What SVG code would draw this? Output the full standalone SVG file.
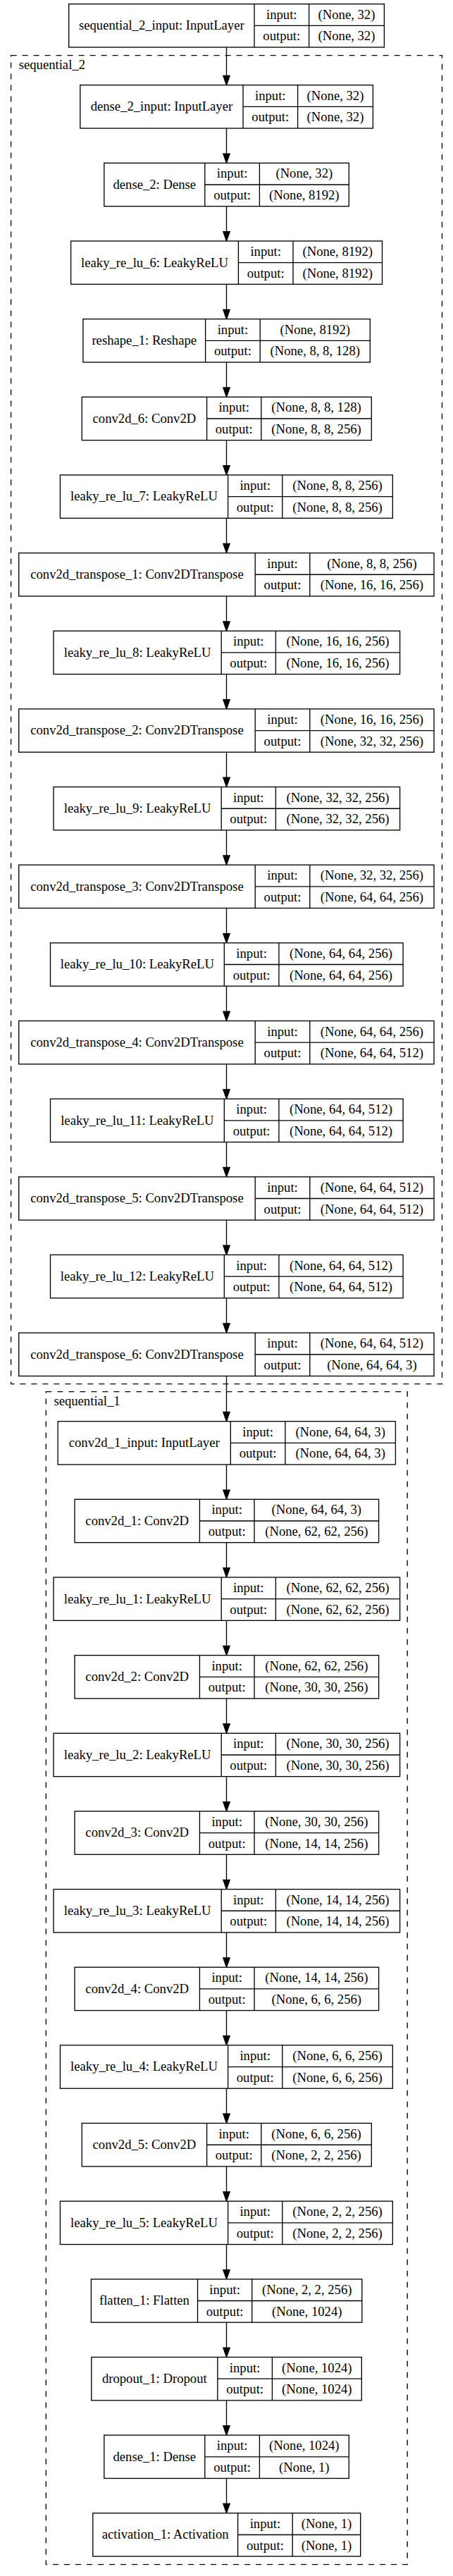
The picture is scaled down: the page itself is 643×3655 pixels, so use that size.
<svg xmlns="http://www.w3.org/2000/svg" width="643" height="3655" viewBox="0 0 643 3655">
<style>
.b{fill:#fff;stroke:#000;stroke-width:1.33}
.l{fill:none;stroke:#000;stroke-width:1.33}
.c{fill:none;stroke:#000;stroke-width:1.33;stroke-dasharray:8 8}
text{font-family:"Liberation Serif","Times New Roman",serif;font-size:18.67px;fill:#000;text-anchor:middle}
.cl{text-anchor:start}
.e{stroke:#000;stroke-width:1.33;fill:none;marker-end:url(#ah)}
</style>
<defs>
<marker id="ah" markerUnits="userSpaceOnUse" markerWidth="18" markerHeight="14" viewBox="-2 -7 18 14" refX="0" refY="0" orient="auto">
<path d="M0,-4.67L13.3,0L0,4.67Z" fill="#000" stroke="#000" stroke-width="1.33"/>
</marker>
</defs>
<rect width="643" height="3655" fill="#fff"/>
<g id="clusters">
<rect class="c" x="15.6" y="78.7" width="611.9" height="1885"/>
<text class="cl" x="26.7" y="98">sequential_2</text>
<rect class="c" x="65.3" y="1974.7" width="512.9" height="1664"/>
<text class="cl" x="76.4" y="1994">sequential_1</text>
</g>
<g id="connectors">
<line class="e" x1="321.5" y1="67.03" x2="321.5" y2="107.4"/>
<line class="e" x1="321.5" y1="182.03" x2="321.5" y2="218.05"/>
<line class="e" x1="321.5" y1="292.68" x2="321.5" y2="328.7"/>
<line class="e" x1="321.5" y1="403.33" x2="321.5" y2="439.35"/>
<line class="e" x1="321.5" y1="513.98" x2="321.5" y2="550"/>
<line class="e" x1="321.5" y1="624.63" x2="321.5" y2="660.65"/>
<line class="e" x1="321.5" y1="735.28" x2="321.5" y2="771.3"/>
<line class="e" x1="321.5" y1="845.93" x2="321.5" y2="881.95"/>
<line class="e" x1="321.5" y1="956.58" x2="321.5" y2="992.6"/>
<line class="e" x1="321.5" y1="1067.23" x2="321.5" y2="1103.25"/>
<line class="e" x1="321.5" y1="1177.88" x2="321.5" y2="1213.9"/>
<line class="e" x1="321.5" y1="1288.53" x2="321.5" y2="1324.55"/>
<line class="e" x1="321.5" y1="1399.18" x2="321.5" y2="1435.2"/>
<line class="e" x1="321.5" y1="1509.83" x2="321.5" y2="1545.85"/>
<line class="e" x1="321.5" y1="1620.48" x2="321.5" y2="1656.5"/>
<line class="e" x1="321.5" y1="1731.13" x2="321.5" y2="1767.15"/>
<line class="e" x1="321.5" y1="1841.78" x2="321.5" y2="1877.8"/>
<line class="e" x1="321.5" y1="1952.43" x2="321.5" y2="2003.4"/>
<line class="e" x1="321.5" y1="2078.03" x2="321.5" y2="2114.05"/>
<line class="e" x1="321.5" y1="2188.68" x2="321.5" y2="2224.7"/>
<line class="e" x1="321.5" y1="2299.33" x2="321.5" y2="2335.35"/>
<line class="e" x1="321.5" y1="2409.98" x2="321.5" y2="2446"/>
<line class="e" x1="321.5" y1="2520.63" x2="321.5" y2="2556.65"/>
<line class="e" x1="321.5" y1="2631.28" x2="321.5" y2="2667.3"/>
<line class="e" x1="321.5" y1="2741.93" x2="321.5" y2="2777.95"/>
<line class="e" x1="321.5" y1="2852.58" x2="321.5" y2="2888.6"/>
<line class="e" x1="321.5" y1="2963.23" x2="321.5" y2="2999.25"/>
<line class="e" x1="321.5" y1="3073.88" x2="321.5" y2="3109.9"/>
<line class="e" x1="321.5" y1="3184.53" x2="321.5" y2="3220.55"/>
<line class="e" x1="321.5" y1="3295.18" x2="321.5" y2="3331.2"/>
<line class="e" x1="321.5" y1="3405.83" x2="321.5" y2="3441.85"/>
<line class="e" x1="321.5" y1="3516.48" x2="321.5" y2="3552.5"/>
</g>
<g id="n_sequential_2_input" transform="translate(0,5.7)">
<rect class="b" x="97.7" y="0" width="447.7" height="61.33"/>
<path class="l" d="M361 0V61.33M438.6 0V61.33M361 30.67H545.4"/>
<text x="229.35" y="36.5">sequential_2_input: InputLayer</text>
<text x="399.8" y="21.1">input:</text><text x="492" y="21.1">(None, 32)</text>
<text x="399.8" y="51.8">output:</text><text x="492" y="51.8">(None, 32)</text>
</g>
<g id="n_dense_2_input" transform="translate(0,120.7)">
<rect class="b" x="113.8" y="0" width="415.6" height="61.33"/>
<path class="l" d="M345 0V61.33M422.6 0V61.33M345 30.67H529.4"/>
<text x="229.4" y="36.5">dense_2_input: InputLayer</text>
<text x="383.8" y="21.1">input:</text><text x="476" y="21.1">(None, 32)</text>
<text x="383.8" y="51.8">output:</text><text x="476" y="51.8">(None, 32)</text>
</g>
<g id="n_dense_2" transform="translate(0,231.35)">
<rect class="b" x="147.8" y="0" width="347.5" height="61.33"/>
<path class="l" d="M290.8 0V61.33M368.4 0V61.33M290.8 30.67H495.3"/>
<text x="219.3" y="36.5">dense_2: Dense</text>
<text x="329.6" y="21.1">input:</text><text x="431.85" y="21.1">(None, 32)</text>
<text x="329.6" y="51.8">output:</text><text x="431.85" y="51.8">(None, 8192)</text>
</g>
<g id="n_leaky_re_lu_6" transform="translate(0,342)">
<rect class="b" x="100.6" y="0" width="441.9" height="61.33"/>
<path class="l" d="M338.4 0V61.33M416 0V61.33M338.4 30.67H542.5"/>
<text x="219.5" y="36.5">leaky_re_lu_6: LeakyReLU</text>
<text x="377.2" y="21.1">input:</text><text x="479.25" y="21.1">(None, 8192)</text>
<text x="377.2" y="51.8">output:</text><text x="479.25" y="51.8">(None, 8192)</text>
</g>
<g id="n_reshape_1" transform="translate(0,452.65)">
<rect class="b" x="117.9" y="0" width="407.4" height="61.33"/>
<path class="l" d="M291.6 0V61.33M369.2 0V61.33M291.6 30.67H525.3"/>
<text x="204.75" y="36.5">reshape_1: Reshape</text>
<text x="330.4" y="21.1">input:</text><text x="447.25" y="21.1">(None, 8192)</text>
<text x="330.4" y="51.8">output:</text><text x="447.25" y="51.8">(None, 8, 8, 128)</text>
</g>
<g id="n_conv2d_6" transform="translate(0,563.3)">
<rect class="b" x="116.2" y="0" width="411.1" height="61.33"/>
<path class="l" d="M293.6 0V61.33M370.8 0V61.33M293.6 30.67H527.3"/>
<text x="204.9" y="36.5">conv2d_6: Conv2D</text>
<text x="332.2" y="21.1">input:</text><text x="449.05" y="21.1">(None, 8, 8, 128)</text>
<text x="332.2" y="51.8">output:</text><text x="449.05" y="51.8">(None, 8, 8, 256)</text>
</g>
<g id="n_leaky_re_lu_7" transform="translate(0,673.95)">
<rect class="b" x="85.4" y="0" width="471.9" height="61.33"/>
<path class="l" d="M323.6 0V61.33M400.8 0V61.33M323.6 30.67H557.3"/>
<text x="204.5" y="36.5">leaky_re_lu_7: LeakyReLU</text>
<text x="362.2" y="21.1">input:</text><text x="479.05" y="21.1">(None, 8, 8, 256)</text>
<text x="362.2" y="51.8">output:</text><text x="479.05" y="51.8">(None, 8, 8, 256)</text>
</g>
<g id="n_conv2d_transpose_1" transform="translate(0,784.6)">
<rect class="b" x="26.7" y="0" width="589.3" height="61.33"/>
<path class="l" d="M362.2 0V61.33M439.8 0V61.33M362.2 30.67H616"/>
<text x="194.45" y="36.5">conv2d_transpose_1: Conv2DTranspose</text>
<text x="401" y="21.1">input:</text><text x="527.9" y="21.1">(None, 8, 8, 256)</text>
<text x="401" y="51.8">output:</text><text x="527.9" y="51.8">(None, 16, 16, 256)</text>
</g>
<g id="n_leaky_re_lu_8" transform="translate(0,895.25)">
<rect class="b" x="76" y="0" width="491.6" height="61.33"/>
<path class="l" d="M314.2 0V61.33M391.4 0V61.33M314.2 30.67H567.6"/>
<text x="195.1" y="36.5">leaky_re_lu_8: LeakyReLU</text>
<text x="352.8" y="21.1">input:</text><text x="479.5" y="21.1">(None, 16, 16, 256)</text>
<text x="352.8" y="51.8">output:</text><text x="479.5" y="51.8">(None, 16, 16, 256)</text>
</g>
<g id="n_conv2d_transpose_2" transform="translate(0,1005.9)">
<rect class="b" x="26.7" y="0" width="589.3" height="61.33"/>
<path class="l" d="M362.2 0V61.33M439.8 0V61.33M362.2 30.67H616"/>
<text x="194.45" y="36.5">conv2d_transpose_2: Conv2DTranspose</text>
<text x="401" y="21.1">input:</text><text x="527.9" y="21.1">(None, 16, 16, 256)</text>
<text x="401" y="51.8">output:</text><text x="527.9" y="51.8">(None, 32, 32, 256)</text>
</g>
<g id="n_leaky_re_lu_9" transform="translate(0,1116.55)">
<rect class="b" x="76" y="0" width="491.6" height="61.33"/>
<path class="l" d="M314.2 0V61.33M391.4 0V61.33M314.2 30.67H567.6"/>
<text x="195.1" y="36.5">leaky_re_lu_9: LeakyReLU</text>
<text x="352.8" y="21.1">input:</text><text x="479.5" y="21.1">(None, 32, 32, 256)</text>
<text x="352.8" y="51.8">output:</text><text x="479.5" y="51.8">(None, 32, 32, 256)</text>
</g>
<g id="n_conv2d_transpose_3" transform="translate(0,1227.2)">
<rect class="b" x="26.7" y="0" width="589.3" height="61.33"/>
<path class="l" d="M362.2 0V61.33M439.8 0V61.33M362.2 30.67H616"/>
<text x="194.45" y="36.5">conv2d_transpose_3: Conv2DTranspose</text>
<text x="401" y="21.1">input:</text><text x="527.9" y="21.1">(None, 32, 32, 256)</text>
<text x="401" y="51.8">output:</text><text x="527.9" y="51.8">(None, 64, 64, 256)</text>
</g>
<g id="n_leaky_re_lu_10" transform="translate(0,1337.85)">
<rect class="b" x="71.5" y="0" width="500.6" height="61.33"/>
<path class="l" d="M318.3 0V61.33M395.9 0V61.33M318.3 30.67H572.1"/>
<text x="194.9" y="36.5">leaky_re_lu_10: LeakyReLU</text>
<text x="357.1" y="21.1">input:</text><text x="484" y="21.1">(None, 64, 64, 256)</text>
<text x="357.1" y="51.8">output:</text><text x="484" y="51.8">(None, 64, 64, 256)</text>
</g>
<g id="n_conv2d_transpose_4" transform="translate(0,1448.5)">
<rect class="b" x="26.7" y="0" width="589.3" height="61.33"/>
<path class="l" d="M362.2 0V61.33M439.8 0V61.33M362.2 30.67H616"/>
<text x="194.45" y="36.5">conv2d_transpose_4: Conv2DTranspose</text>
<text x="401" y="21.1">input:</text><text x="527.9" y="21.1">(None, 64, 64, 256)</text>
<text x="401" y="51.8">output:</text><text x="527.9" y="51.8">(None, 64, 64, 512)</text>
</g>
<g id="n_leaky_re_lu_11" transform="translate(0,1559.15)">
<rect class="b" x="71.5" y="0" width="500.6" height="61.33"/>
<path class="l" d="M318.3 0V61.33M395.9 0V61.33M318.3 30.67H572.1"/>
<text x="194.9" y="36.5">leaky_re_lu_11: LeakyReLU</text>
<text x="357.1" y="21.1">input:</text><text x="484" y="21.1">(None, 64, 64, 512)</text>
<text x="357.1" y="51.8">output:</text><text x="484" y="51.8">(None, 64, 64, 512)</text>
</g>
<g id="n_conv2d_transpose_5" transform="translate(0,1669.8)">
<rect class="b" x="26.7" y="0" width="589.3" height="61.33"/>
<path class="l" d="M362.2 0V61.33M439.8 0V61.33M362.2 30.67H616"/>
<text x="194.45" y="36.5">conv2d_transpose_5: Conv2DTranspose</text>
<text x="401" y="21.1">input:</text><text x="527.9" y="21.1">(None, 64, 64, 512)</text>
<text x="401" y="51.8">output:</text><text x="527.9" y="51.8">(None, 64, 64, 512)</text>
</g>
<g id="n_leaky_re_lu_12" transform="translate(0,1780.45)">
<rect class="b" x="71.5" y="0" width="500.6" height="61.33"/>
<path class="l" d="M318.3 0V61.33M395.9 0V61.33M318.3 30.67H572.1"/>
<text x="194.9" y="36.5">leaky_re_lu_12: LeakyReLU</text>
<text x="357.1" y="21.1">input:</text><text x="484" y="21.1">(None, 64, 64, 512)</text>
<text x="357.1" y="51.8">output:</text><text x="484" y="51.8">(None, 64, 64, 512)</text>
</g>
<g id="n_conv2d_transpose_6" transform="translate(0,1891.1)">
<rect class="b" x="26.7" y="0" width="589.3" height="61.33"/>
<path class="l" d="M362.2 0V61.33M439.8 0V61.33M362.2 30.67H616"/>
<text x="194.45" y="36.5">conv2d_transpose_6: Conv2DTranspose</text>
<text x="401" y="21.1">input:</text><text x="527.9" y="21.1">(None, 64, 64, 512)</text>
<text x="401" y="51.8">output:</text><text x="527.9" y="51.8">(None, 64, 64, 3)</text>
</g>
<g id="n_conv2d_1_input" transform="translate(0,2016.7)">
<rect class="b" x="82.1" y="0" width="479.3" height="61.33"/>
<path class="l" d="M327.3 0V61.33M404.9 0V61.33M327.3 30.67H561.4"/>
<text x="204.7" y="36.5">conv2d_1_input: InputLayer</text>
<text x="366.1" y="21.1">input:</text><text x="483.15" y="21.1">(None, 64, 64, 3)</text>
<text x="366.1" y="51.8">output:</text><text x="483.15" y="51.8">(None, 64, 64, 3)</text>
</g>
<g id="n_conv2d_1" transform="translate(0,2127.35)">
<rect class="b" x="106" y="0" width="431.6" height="61.33"/>
<path class="l" d="M283.4 0V61.33M361 0V61.33M283.4 30.67H537.6"/>
<text x="194.7" y="36.5">conv2d_1: Conv2D</text>
<text x="322.2" y="21.1">input:</text><text x="449.3" y="21.1">(None, 64, 64, 3)</text>
<text x="322.2" y="51.8">output:</text><text x="449.3" y="51.8">(None, 62, 62, 256)</text>
</g>
<g id="n_leaky_re_lu_1" transform="translate(0,2238)">
<rect class="b" x="76" y="0" width="491.6" height="61.33"/>
<path class="l" d="M314.2 0V61.33M391.4 0V61.33M314.2 30.67H567.6"/>
<text x="195.1" y="36.5">leaky_re_lu_1: LeakyReLU</text>
<text x="352.8" y="21.1">input:</text><text x="479.5" y="21.1">(None, 62, 62, 256)</text>
<text x="352.8" y="51.8">output:</text><text x="479.5" y="51.8">(None, 62, 62, 256)</text>
</g>
<g id="n_conv2d_2" transform="translate(0,2348.65)">
<rect class="b" x="106" y="0" width="431.6" height="61.33"/>
<path class="l" d="M283.4 0V61.33M361 0V61.33M283.4 30.67H537.6"/>
<text x="194.7" y="36.5">conv2d_2: Conv2D</text>
<text x="322.2" y="21.1">input:</text><text x="449.3" y="21.1">(None, 62, 62, 256)</text>
<text x="322.2" y="51.8">output:</text><text x="449.3" y="51.8">(None, 30, 30, 256)</text>
</g>
<g id="n_leaky_re_lu_2" transform="translate(0,2459.3)">
<rect class="b" x="76" y="0" width="491.6" height="61.33"/>
<path class="l" d="M314.2 0V61.33M391.4 0V61.33M314.2 30.67H567.6"/>
<text x="195.1" y="36.5">leaky_re_lu_2: LeakyReLU</text>
<text x="352.8" y="21.1">input:</text><text x="479.5" y="21.1">(None, 30, 30, 256)</text>
<text x="352.8" y="51.8">output:</text><text x="479.5" y="51.8">(None, 30, 30, 256)</text>
</g>
<g id="n_conv2d_3" transform="translate(0,2569.95)">
<rect class="b" x="106" y="0" width="431.6" height="61.33"/>
<path class="l" d="M283.4 0V61.33M361 0V61.33M283.4 30.67H537.6"/>
<text x="194.7" y="36.5">conv2d_3: Conv2D</text>
<text x="322.2" y="21.1">input:</text><text x="449.3" y="21.1">(None, 30, 30, 256)</text>
<text x="322.2" y="51.8">output:</text><text x="449.3" y="51.8">(None, 14, 14, 256)</text>
</g>
<g id="n_leaky_re_lu_3" transform="translate(0,2680.6)">
<rect class="b" x="76" y="0" width="491.6" height="61.33"/>
<path class="l" d="M314.2 0V61.33M391.4 0V61.33M314.2 30.67H567.6"/>
<text x="195.1" y="36.5">leaky_re_lu_3: LeakyReLU</text>
<text x="352.8" y="21.1">input:</text><text x="479.5" y="21.1">(None, 14, 14, 256)</text>
<text x="352.8" y="51.8">output:</text><text x="479.5" y="51.8">(None, 14, 14, 256)</text>
</g>
<g id="n_conv2d_4" transform="translate(0,2791.25)">
<rect class="b" x="106" y="0" width="431.6" height="61.33"/>
<path class="l" d="M283.4 0V61.33M361 0V61.33M283.4 30.67H537.6"/>
<text x="194.7" y="36.5">conv2d_4: Conv2D</text>
<text x="322.2" y="21.1">input:</text><text x="449.3" y="21.1">(None, 14, 14, 256)</text>
<text x="322.2" y="51.8">output:</text><text x="449.3" y="51.8">(None, 6, 6, 256)</text>
</g>
<g id="n_leaky_re_lu_4" transform="translate(0,2901.9)">
<rect class="b" x="85.4" y="0" width="471.9" height="61.33"/>
<path class="l" d="M323.6 0V61.33M400.8 0V61.33M323.6 30.67H557.3"/>
<text x="204.5" y="36.5">leaky_re_lu_4: LeakyReLU</text>
<text x="362.2" y="21.1">input:</text><text x="479.05" y="21.1">(None, 6, 6, 256)</text>
<text x="362.2" y="51.8">output:</text><text x="479.05" y="51.8">(None, 6, 6, 256)</text>
</g>
<g id="n_conv2d_5" transform="translate(0,3012.55)">
<rect class="b" x="116.2" y="0" width="411.1" height="61.33"/>
<path class="l" d="M293.6 0V61.33M370.8 0V61.33M293.6 30.67H527.3"/>
<text x="204.9" y="36.5">conv2d_5: Conv2D</text>
<text x="332.2" y="21.1">input:</text><text x="449.05" y="21.1">(None, 6, 6, 256)</text>
<text x="332.2" y="51.8">output:</text><text x="449.05" y="51.8">(None, 2, 2, 256)</text>
</g>
<g id="n_leaky_re_lu_5" transform="translate(0,3123.2)">
<rect class="b" x="85.4" y="0" width="471.9" height="61.33"/>
<path class="l" d="M323.6 0V61.33M400.8 0V61.33M323.6 30.67H557.3"/>
<text x="204.5" y="36.5">leaky_re_lu_5: LeakyReLU</text>
<text x="362.2" y="21.1">input:</text><text x="479.05" y="21.1">(None, 2, 2, 256)</text>
<text x="362.2" y="51.8">output:</text><text x="479.05" y="51.8">(None, 2, 2, 256)</text>
</g>
<g id="n_flatten_1" transform="translate(0,3233.85)">
<rect class="b" x="129.4" y="0" width="384.4" height="61.33"/>
<path class="l" d="M280.5 0V61.33M357.7 0V61.33M280.5 30.67H513.8"/>
<text x="204.95" y="36.5">flatten_1: Flatten</text>
<text x="319.1" y="21.1">input:</text><text x="435.75" y="21.1">(None, 2, 2, 256)</text>
<text x="319.1" y="51.8">output:</text><text x="435.75" y="51.8">(None, 1024)</text>
</g>
<g id="n_dropout_1" transform="translate(0,3344.5)">
<rect class="b" x="129.8" y="0" width="383.5" height="61.33"/>
<path class="l" d="M308.8 0V61.33M386.4 0V61.33M308.8 30.67H513.3"/>
<text x="219.3" y="36.5">dropout_1: Dropout</text>
<text x="347.6" y="21.1">input:</text><text x="449.85" y="21.1">(None, 1024)</text>
<text x="347.6" y="51.8">output:</text><text x="449.85" y="51.8">(None, 1024)</text>
</g>
<g id="n_dense_1" transform="translate(0,3455.15)">
<rect class="b" x="147.8" y="0" width="347.5" height="61.33"/>
<path class="l" d="M290.8 0V61.33M368.4 0V61.33M290.8 30.67H495.3"/>
<text x="219.3" y="36.5">dense_1: Dense</text>
<text x="329.6" y="21.1">input:</text><text x="431.85" y="21.1">(None, 1024)</text>
<text x="329.6" y="51.8">output:</text><text x="431.85" y="51.8">(None, 1)</text>
</g>
<g id="n_activation_1" transform="translate(0,3565.8)">
<rect class="b" x="131.8" y="0" width="379.9" height="61.33"/>
<path class="l" d="M337.6 0V61.33M415.2 0V61.33M337.6 30.67H511.7"/>
<text x="234.7" y="36.5">activation_1: Activation</text>
<text x="376.4" y="21.1">input:</text><text x="463.45" y="21.1">(None, 1)</text>
<text x="376.4" y="51.8">output:</text><text x="463.45" y="51.8">(None, 1)</text>
</g>
</svg>
